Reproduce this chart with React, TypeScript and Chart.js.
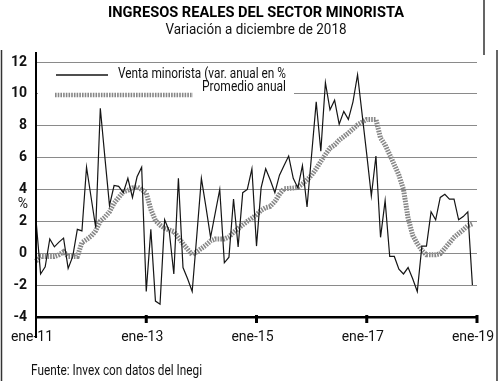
import React, { useEffect, useRef } from "react";
import { Chart, registerables } from "chart.js";

Chart.register(...registerables);

const FONT = "Roboto";

const MONTHS = ["ene", "feb", "mar", "abr", "may", "jun", "jul", "ago", "sep", "oct", "nov", "dic"];
const YEARS = ["11", "12", "13", "14", "15", "16", "17", "18", "19"];
const categories: string[] = [];
for (const y of YEARS) {
  for (const m of MONTHS) {
    if (y === "19" && m !== "ene") break;
    categories.push(`${m}-${y}`);
  }
}

const xTickLabels = ["ene-11", "ene-13", "ene-15", "ene-17", "ene-19"];
const xTickMarks = ["ene-13", "ene-15", "ene-17", "ene-19"];

// Venta minorista (var. anual en %), ene-11 .. dic-18
const ventaMinorista = [
  2.1, -1.3, -0.85, 0.9, 0.4, 0.7, 0.95, -0.95, -0.2, 1.5,
  1.4, 5.4, 3.5, 1.6, 9.1, 6.0, 3.0, 4.25, 4.2, 3.8,
  4.7, 3.5, 4.8, 5.4, -2.4, 1.5, -3.0, -3.2, 2.1, 1.4,
  -1.3, 4.7, -0.9, -1.6, -2.4, 1.1, 4.7, 2.9, 1.0, 2.5,
  4.0, -0.6, -0.25, 3.4, 0.4, 3.8, 4.0, 5.3, 0.45, 4.1,
  5.3, 4.6, 3.8, 4.9, 5.5, 6.1, 4.7, 4.1, 5.5, 2.9,
  6.2, 9.5, 6.4, 10.7, 9.0, 9.6, 8.1, 8.9, 8.4, 9.5,
  11.2, 8.7, 6.2, 3.6, 6.1, 1.0, 3.3, -0.2, -0.2, -1.0,
  -1.3, -0.9, -1.6, -2.4, 0.45, 0.45, 2.6, 2.1, 3.5, 3.7,
  3.4, 3.4, 2.1, 2.3, 2.6, -2.0,
];

// Promedio anual
const promedioAnual = [
  -0.5, -0.2, -0.2, -0.2, -0.2, -0.1, 0.1, -0.2, -0.2, -0.2,
  0.67, 0.86, 1.07, 1.41, 2.02, 2.27, 2.6, 3.15, 3.5, 3.85,
  3.95, 4.1, 4.16, 4.0, 3.78, 2.75, 2.05, 1.77, 1.57, 1.46,
  1.36, 0.99, 0.6, 0.25, -0.1, 0.09, 0.3, 0.51, 0.77, 0.9,
  0.9, 0.9, 1.02, 1.32, 1.55, 1.78, 2.0, 2.2, 2.42, 2.69,
  2.86, 2.94, 3.25, 3.7, 4.05, 4.07, 4.09, 4.13, 4.35, 4.6,
  4.9, 5.3, 5.76, 6.2, 6.6, 6.79, 7.1, 7.32, 7.54, 7.8,
  8.06, 8.23, 8.4, 8.4, 8.4, 7.23, 6.8, 6.18, 5.55, 4.9,
  4.0, 2.2, 1.13, 0.6, 0.18, -0.1, -0.1, -0.1, -0.03, 0.31,
  0.65, 1.0, 1.24, 1.47, 1.73, 1.85,
];

const TITLE = "INGRESOS REALES DEL SECTOR MINORISTA";
const SUBTITLE = "Variación a diciembre de 2018";
const SOURCE = "Fuente: Invex con datos del Inegi";
const LEGEND_1 = "Venta minorista (var. anual en %";
const LEGEND_2 = "Promedio anual";
const Y_UNIT = "%";

const GRAY = "#878787";
const GRAY_DASH = [1.6, 1.1];

function fitText(
  ctx: CanvasRenderingContext2D,
  text: string,
  x: number,
  y: number,
  w: number,
  align: "left" | "center" | "right",
  font: string,
  color = "#111"
) {
  ctx.save();
  ctx.font = font;
  ctx.fillStyle = color;
  const m = ctx.measureText(text).width;
  const s = w / m;
  const x0 = align === "left" ? x : align === "center" ? x - w / 2 : x - w;
  ctx.translate(x0, y);
  ctx.scale(s, 1);
  ctx.textAlign = "left";
  ctx.textBaseline = "middle";
  ctx.fillText(text, 0, 0);
  ctx.restore();
}

const decor = {
  id: "decor",
  beforeDatasetsDraw(chart: any) {
    const ctx: CanvasRenderingContext2D = chart.ctx;
    const { left } = chart.chartArea;
    ctx.save();
    // legend box
    ctx.fillStyle = "#fff";
    ctx.fillRect(left + 2, 64, 256, 37);
    // black sample
    ctx.strokeStyle = "#151515";
    ctx.lineWidth = 1.5;
    ctx.beginPath();
    ctx.moveTo(56, 75);
    ctx.lineTo(108, 75);
    ctx.stroke();
    // gray sample
    ctx.strokeStyle = GRAY;
    ctx.lineWidth = 4.5;
    ctx.lineCap = "butt";
    ctx.setLineDash(GRAY_DASH);
    ctx.beginPath();
    ctx.moveTo(55, 95);
    ctx.lineTo(193, 95);
    ctx.stroke();
    ctx.setLineDash([]);
    ctx.restore();
    fitText(ctx, LEGEND_1, 118, 74, 168, "left", `14px ${FONT}`);
    fitText(ctx, LEGEND_2, 202, 87.5, 84, "left", `14px ${FONT}`);
  },
  afterDraw(chart: any) {
    const ctx: CanvasRenderingContext2D = chart.ctx;
    const { left, bottom } = chart.chartArea;
    const xs = chart.scales.x;
    fitText(ctx, TITLE, 256, 13.5, 296, "center", `bold 15px ${FONT}`, "#000");
    fitText(ctx, SUBTITLE, 256, 30, 181, "center", `15px ${FONT}`, "#111");
    fitText(ctx, SOURCE, 31, 371, 171, "left", `14px ${FONT}`, "#111");
    ctx.save();
    // % unit label
    ctx.font = `14px ${FONT}`;
    ctx.fillStyle = "#111";
    ctx.textAlign = "center";
    ctx.textBaseline = "middle";
    ctx.fillText(Y_UNIT, 23, 204);
    // y axis line
    ctx.strokeStyle = "#000";
    ctx.lineWidth = 2;
    ctx.beginPath();
    ctx.moveTo(left, 52);
    ctx.lineTo(left, 338);
    ctx.stroke();
    // x tick marks
    ctx.fillStyle = "#000";
    for (const lab of xTickMarks) {
      const idx = categories.indexOf(lab);
      const px = xs.getPixelForValue(idx);
      ctx.fillRect(px - 1.5, bottom - 2, 3, 8);
    }
    // frame
    ctx.strokeStyle = "#333";
    ctx.lineWidth = 1.5;
    ctx.beginPath();
    ctx.moveTo(1.5, 50);
    ctx.lineTo(1.5, 381);
    ctx.moveTo(497, 50);
    ctx.lineTo(497, 381);
    ctx.moveTo(484, 0);
    ctx.lineTo(484, 55);
    ctx.stroke();
    ctx.restore();
  },
};

export default function App() {
  const ref = useRef<HTMLCanvasElement>(null);
  useEffect(() => {
    const canvas = ref.current!;
    const chart = new Chart(canvas, {
      type: "line",
      data: {
        labels: categories,
        datasets: [
          {
            label: LEGEND_1,
            data: ventaMinorista,
            borderColor: "#151515",
            borderWidth: 1.2,
            pointRadius: 0,
            tension: 0,
            fill: false,
          },
          {
            label: LEGEND_2,
            data: promedioAnual,
            borderColor: GRAY,
            borderWidth: 5,
            borderDash: GRAY_DASH,
            borderCapStyle: "butt",
            pointRadius: 0,
            tension: 0,
            fill: false,
          },
        ],
      },
      options: {
        responsive: false,
        animation: false,
        devicePixelRatio: 1,
        layout: { padding: { top: 62, right: 23, bottom: 0, left: 0 } },
        plugins: {
          legend: { display: false },
          tooltip: { enabled: false },
          title: { display: false },
        },
        scales: {
          x: {
            type: "category",
            offset: false,
            grid: { display: false, drawTicks: false },
            border: { display: true, color: "#000", width: 2.5 },
            ticks: {
              autoSkip: false,
              maxRotation: 0,
              minRotation: 0,
              padding: 12,
              labelOffset: -4,
              color: "#111",
              font: { family: FONT, size: 14 },
              callback: (_v: any, i: number) =>
                xTickLabels.includes(categories[i]) ? categories[i] : null,
            },
            afterFit: (s: any) => {
              s.height = 64;
              s.paddingLeft = 0;
              s.paddingRight = 0;
            },
          },
          y: {
            min: -4,
            max: 12,
            grid: { color: "#8a8a8a", lineWidth: 1, drawTicks: false },
            border: { display: false },
            ticks: {
              stepSize: 2,
              padding: 9,
              color: "#111",
              font: { family: FONT, size: 14, weight: "bold" },
            },
            afterFit: (s: any) => {
              s.width = 36;
              s.paddingTop = 0;
              s.paddingBottom = 0;
            },
          },
        },
      },
      plugins: [decor],
    } as any);
    return () => chart.destroy();
  }, []);
  return (
    <div style={{ position: "fixed", left: 0, top: 0, width: 500, height: 381, background: "#fff" }}>
      <canvas ref={ref} width={500} height={381} style={{ display: "block" }} />
    </div>
  );
}
